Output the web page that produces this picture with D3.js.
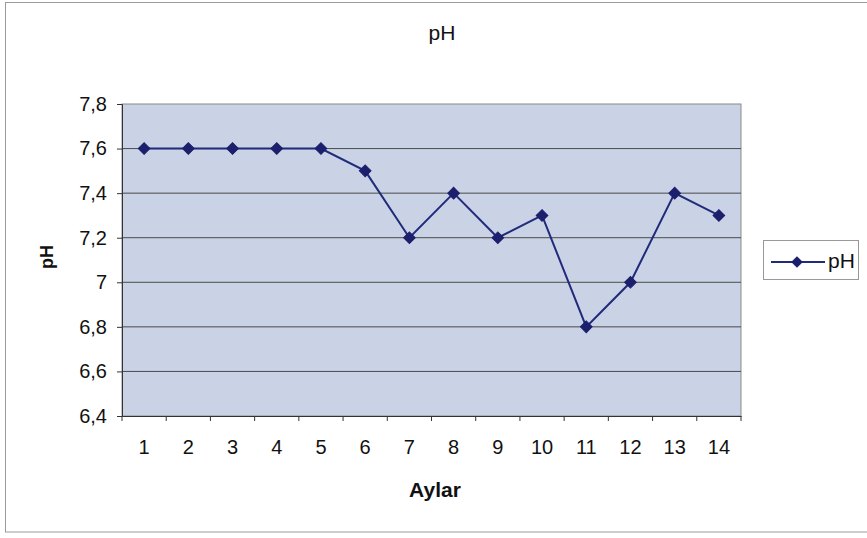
<!DOCTYPE html>
<html><head><meta charset="utf-8">
<script src="https://cdn.jsdelivr.net/npm/d3@7"></script>
<style>body{margin:0;background:#fff;} svg{display:block;font-family:Arial,"Liberation Sans",sans-serif;}</style>
</head><body>
<svg id="c" width="867" height="538"></svg>
<script>
const categories = ["1","2","3","4","5","6","7","8","9","10","11","12","13","14"];
const phValues = [7.6,7.6,7.6,7.6,7.6,7.5,7.2,7.4,7.2,7.3,6.8,7.0,7.4,7.3];
const yTicks = [6.4,6.6,6.8,7.0,7.2,7.4,7.6,7.8];
const seriesName = "pH";
const title = "pH";
const xTitle = "Aylar";
const yTitle = "pH";

const FONT = "Arial,'Liberation Sans',sans-serif";
const svg = d3.select("#c");
const m = {left:122, right:741, top:104, bottom:416};
svg.append("rect").attr("x",5.5).attr("y",2.5).attr("width",870).attr("height",529.5)
  .attr("fill","#fff").attr("stroke","#9a9a9a").attr("stroke-width",1);

const x = d3.scaleBand().domain(categories).range([m.left,m.right]);
const y = d3.scaleLinear().domain([6.4,7.8]).range([m.bottom,m.top]);

svg.append("rect").attr("x",m.left).attr("y",m.top).attr("width",m.right-m.left).attr("height",m.bottom-m.top)
  .attr("fill","#c9d3e5").attr("stroke","#8a8a8a");

// gridlines
svg.append("g").selectAll("line").data(yTicks.slice(1,-1)).join("line")
  .attr("x1",m.left).attr("x2",m.right).attr("y1",d=>y(d)).attr("y2",d=>y(d))
  .attr("stroke","#4a4a4a").attr("stroke-width",1);

const fmt = d => String(+d.toFixed(1)).replace(".",",");
const yAxis = svg.append("g").attr("transform",`translate(${m.left},0)`)
  .call(d3.axisLeft(y).tickValues(yTicks).tickFormat(fmt).tickSize(5).tickPadding(10));
yAxis.select(".domain").attr("stroke","#333");
yAxis.selectAll(".tick line").attr("stroke","#333");
yAxis.selectAll("text").attr("font-size",20).attr("fill","#111").attr("font-family",FONT);

const xAxis = svg.append("g").attr("transform",`translate(0,${m.bottom})`)
  .call(d3.axisBottom(x).tickSize(0).tickPadding(24));
xAxis.select(".domain").attr("stroke","#333");
xAxis.selectAll("text").attr("font-size",20).attr("fill","#111").attr("font-family",FONT);
// category boundary ticks
const bounds = categories.map(c=>x(c)).concat([m.right]);
svg.append("g").selectAll("line").data(bounds).join("line")
  .attr("x1",d=>d).attr("x2",d=>d).attr("y1",m.bottom).attr("y2",m.bottom+5).attr("stroke","#333");

const cx = (i) => x(categories[i]) + x.bandwidth()/2;
const line = d3.line().x((d,i)=>cx(i)).y(d=>y(d));
svg.append("path").datum(phValues).attr("d",line).attr("fill","none")
  .attr("stroke","#222a7a").attr("stroke-width",2);
const marker = d3.symbol().type(d3.symbolSquare).size(68);
svg.append("g").selectAll("path").data(phValues).join("path")
  .attr("d",marker).attr("transform",(d,i)=>`translate(${cx(i)},${y(d)}) rotate(45)`)
  .attr("fill","#1c1f6b").attr("stroke","#1c1f6b");

svg.append("text").attr("x",442).attr("y",40).attr("text-anchor","middle").attr("font-size",21).attr("fill","#111").text(title);
svg.append("text").attr("x",435).attr("y",497).attr("text-anchor","middle").attr("font-size",21).attr("font-weight","bold").attr("fill","#111").text(xTitle);
svg.append("text").attr("transform","translate(53,257) rotate(-90)").attr("text-anchor","middle").attr("font-size",18).attr("font-weight","bold").attr("fill","#111").text(yTitle);

// legend
const lg = svg.append("g");
lg.append("rect").attr("x",763.5).attr("y",240.5).attr("width",95).attr("height",39).attr("fill","#fff").attr("stroke","#999");
lg.append("line").attr("x1",771).attr("x2",825).attr("y1",262).attr("y2",262).attr("stroke","#222a7a").attr("stroke-width",2);
lg.append("path").attr("d",marker).attr("transform","translate(797,262) rotate(45)").attr("fill","#1c1f6b");
lg.append("text").attr("x",828).attr("y",268).attr("font-size",21).attr("fill","#111").text(seriesName);
</script>
</body></html>
